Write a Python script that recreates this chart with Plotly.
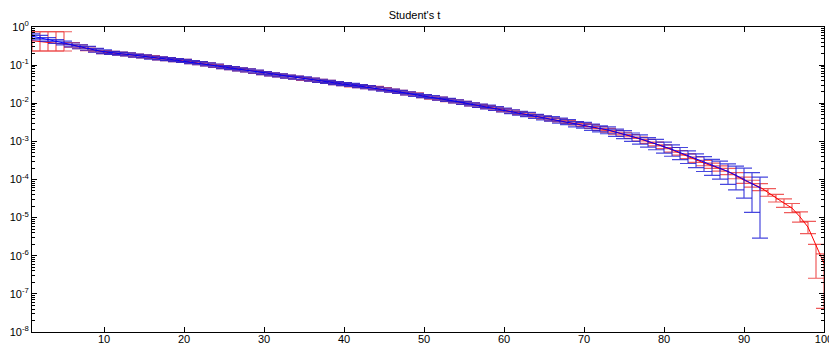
import plotly.graph_objects as go

# ---------------- data ----------------
x_red = list(range(1, 101))
x_blue = list(range(1, 93))

red_log10 = [
    -0.36, -0.38, -0.40, -0.42, -0.45, -0.47, -0.52, -0.57, -0.61, -0.66,
    -0.68, -0.70, -0.72, -0.75, -0.77, -0.79, -0.82, -0.84, -0.87, -0.89,
    -0.92, -0.95, -0.98, -1.02, -1.05, -1.08, -1.11, -1.14, -1.18, -1.21,
    -1.24, -1.27, -1.30, -1.33, -1.36, -1.38, -1.41, -1.44, -1.47, -1.50,
    -1.53, -1.55, -1.58, -1.60, -1.63, -1.67, -1.70, -1.74, -1.77, -1.81,
    -1.85, -1.88, -1.92, -1.95, -1.99, -2.03, -2.07, -2.10, -2.14, -2.18,
    -2.22, -2.26, -2.30, -2.34, -2.38, -2.42, -2.45, -2.49, -2.53, -2.57,
    -2.61, -2.66, -2.71, -2.76, -2.81, -2.87, -2.94, -3.00, -3.07, -3.14,
    -3.22, -3.30, -3.39, -3.48, -3.57, -3.64, -3.71, -3.79, -3.90, -4.02,
    -4.11, -4.20, -4.34, -4.49, -4.62, -4.75, -4.98, -5.25, -5.75, -6.20,
]
red_up = [
    0.235, 0.255, 0.275, 0.295, 0.325, 0.06, 0.05, 0.05, 0.04, 0.04,
    0.04, 0.04, 0.04, 0.04, 0.04, 0.04, 0.04, 0.04, 0.04, 0.04,
    0.04, 0.04, 0.04, 0.04, 0.04, 0.04, 0.04, 0.04, 0.04, 0.04,
    0.04, 0.04, 0.04, 0.04, 0.04, 0.04, 0.04, 0.04, 0.04, 0.04,
    0.04, 0.04, 0.04, 0.04, 0.04, 0.04, 0.04, 0.04, 0.04, 0.04,
    0.04, 0.04, 0.04, 0.04, 0.04, 0.04, 0.04, 0.04, 0.04, 0.04,
    0.04, 0.04, 0.04, 0.04, 0.04, 0.04, 0.04, 0.04, 0.04, 0.04,
    0.05, 0.05, 0.05, 0.05, 0.05, 0.05, 0.05, 0.05, 0.05, 0.05,
    0.06, 0.06, 0.06, 0.07, 0.07, 0.07, 0.07, 0.08, 0.08, 0.08,
    0.09, 0.09, 0.10, 0.10, 0.11, 0.12, 0.13, 0.15, 0.05, 0.25,
]
red_dn = [
    0.27, 0.25, 0.23, 0.21, 0.18, 0.06, 0.05, 0.05, 0.04, 0.04,
    0.04, 0.04, 0.04, 0.04, 0.04, 0.04, 0.04, 0.04, 0.04, 0.04,
    0.04, 0.04, 0.04, 0.04, 0.04, 0.04, 0.04, 0.04, 0.04, 0.04,
    0.04, 0.04, 0.04, 0.04, 0.04, 0.04, 0.04, 0.04, 0.04, 0.04,
    0.04, 0.04, 0.04, 0.04, 0.04, 0.04, 0.04, 0.04, 0.04, 0.04,
    0.04, 0.04, 0.04, 0.04, 0.04, 0.04, 0.04, 0.04, 0.04, 0.04,
    0.04, 0.04, 0.04, 0.04, 0.04, 0.04, 0.04, 0.04, 0.04, 0.04,
    0.05, 0.05, 0.05, 0.05, 0.05, 0.05, 0.05, 0.05, 0.05, 0.05,
    0.06, 0.06, 0.06, 0.07, 0.07, 0.07, 0.07, 0.08, 0.08, 0.08,
    0.09, 0.09, 0.10, 0.10, 0.11, 0.12, 0.14, 0.17, 0.84, 1.18,
]

blue_log10 = [
    -0.24, -0.28, -0.33, -0.38, -0.42, -0.47, -0.52, -0.56, -0.61, -0.65,
    -0.68, -0.70, -0.72, -0.75, -0.77, -0.80, -0.82, -0.84, -0.87, -0.89,
    -0.92, -0.95, -0.98, -1.01, -1.05, -1.08, -1.11, -1.14, -1.17, -1.21,
    -1.24, -1.27, -1.30, -1.33, -1.35, -1.38, -1.41, -1.44, -1.47, -1.50,
    -1.52, -1.55, -1.58, -1.61, -1.64, -1.67, -1.70, -1.74, -1.78, -1.81,
    -1.84, -1.88, -1.91, -1.95, -1.99, -2.03, -2.06, -2.10, -2.14, -2.18,
    -2.22, -2.26, -2.29, -2.34, -2.38, -2.41, -2.45, -2.49, -2.54, -2.57,
    -2.62, -2.66, -2.70, -2.76, -2.81, -2.87, -2.93, -3.00, -3.06, -3.14,
    -3.21, -3.29, -3.38, -3.47, -3.55, -3.63, -3.70, -3.79, -3.89, -3.99,
    -4.11, -4.22,
]
blue_up = [
    0.06, 0.06, 0.05, 0.05, 0.05, 0.05, 0.05, 0.05, 0.05, 0.05,
    0.04, 0.04, 0.04, 0.04, 0.04, 0.04, 0.04, 0.04, 0.04, 0.04,
    0.04, 0.04, 0.04, 0.04, 0.04, 0.04, 0.04, 0.04, 0.04, 0.04,
    0.04, 0.04, 0.04, 0.04, 0.04, 0.04, 0.04, 0.04, 0.04, 0.04,
    0.04, 0.04, 0.04, 0.04, 0.04, 0.04, 0.04, 0.04, 0.04, 0.04,
    0.04, 0.04, 0.04, 0.04, 0.04, 0.04, 0.04, 0.05, 0.05, 0.05,
    0.05, 0.05, 0.05, 0.05, 0.05, 0.06, 0.06, 0.06, 0.06, 0.07,
    0.07, 0.07, 0.08, 0.08, 0.09, 0.09, 0.10, 0.10, 0.11, 0.12,
    0.12, 0.13, 0.13, 0.14, 0.15, 0.16, 0.18, 0.20, 0.24, 0.29,
    0.29, 0.28,
]
blue_dn = [
    0.06, 0.06, 0.05, 0.05, 0.05, 0.05, 0.05, 0.05, 0.05, 0.05,
    0.04, 0.04, 0.04, 0.04, 0.04, 0.04, 0.04, 0.04, 0.04, 0.04,
    0.04, 0.04, 0.04, 0.04, 0.04, 0.04, 0.04, 0.04, 0.04, 0.04,
    0.04, 0.04, 0.04, 0.04, 0.04, 0.04, 0.04, 0.04, 0.04, 0.04,
    0.04, 0.04, 0.04, 0.04, 0.04, 0.04, 0.04, 0.04, 0.04, 0.04,
    0.04, 0.04, 0.04, 0.04, 0.04, 0.04, 0.05, 0.05, 0.05, 0.05,
    0.05, 0.05, 0.06, 0.06, 0.06, 0.06, 0.07, 0.07, 0.08, 0.08,
    0.09, 0.09, 0.10, 0.11, 0.12, 0.13, 0.14, 0.15, 0.16, 0.17,
    0.18, 0.19, 0.20, 0.22, 0.24, 0.26, 0.29, 0.34, 0.38, 0.50,
    0.75, 1.32,
]

y_tick_exps = [0, -1, -2, -3, -4, -5, -6, -7, -8]
x_tick_vals = [10, 20, 30, 40, 50, 60, 70, 80, 90, 100]
title_text = "Student's t"


def to_series(logs, up, dn):
    vals = [10 ** l for l in logs]
    plus = [10 ** (l + u) - 10 ** l for l, u in zip(logs, up)]
    minus = [10 ** l - 10 ** (l - d) for l, d in zip(logs, dn)]
    return vals, plus, minus


rv, rp, rm = to_series(red_log10, red_up, red_dn)
bv, bp, bm = to_series(blue_log10, blue_up, blue_dn)

minor_vals = [m * 10 ** e for e in y_tick_exps[1:] for m in range(2, 10)]

fig = go.Figure()
fig.add_trace(go.Scatter(
    x=x_red, y=rv, mode="lines",
    line=dict(color="rgb(255,0,0)", width=1),
    error_y=dict(type="data", symmetric=False, array=rp, arrayminus=rm,
                 color="rgba(235,50,50,0.8)", thickness=1.2, width=8),
    showlegend=False, hoverinfo="skip",
))
fig.add_trace(go.Scatter(
    x=x_blue, y=bv, mode="lines",
    line=dict(color="rgb(0,0,255)", width=1),
    error_y=dict(type="data", symmetric=False, array=bp, arrayminus=bm,
                 color="rgba(30,30,215,0.82)", thickness=1.2, width=8),
    showlegend=False, hoverinfo="skip",
))

fig.update_layout(
    width=829, height=345,
    margin=dict(l=32, r=5, t=27, b=13, autoexpand=False),
    paper_bgcolor="white", plot_bgcolor="white",
    font=dict(family="Liberation Sans, Arial, sans-serif", size=11, color="black"),
    title=dict(text=title_text, x=0.5, xanchor="center", y=0.957, yanchor="middle",
               font=dict(size=11, color="black")),
)
fig.update_xaxes(
    range=[1, 100], tickvals=x_tick_vals, ticktext=[str(v) for v in x_tick_vals],
    ticks="inside", ticklen=5, tickcolor="black", showline=True, linecolor="black",
    linewidth=1, mirror="ticks", showgrid=False, zeroline=False,
    tickfont=dict(size=11), automargin=False, ticklabelstandoff=-3,
    ticklabeloverflow="allow",
)
fig.update_yaxes(
    type="log", range=[-8, 0],
    tickvals=[10 ** e for e in y_tick_exps],
    ticktext=["10<sup>%d</sup>" % e for e in y_tick_exps],
    ticks="inside", ticklen=5, tickcolor="black", showline=True, linecolor="black",
    linewidth=1, mirror="ticks", showgrid=False, zeroline=False,
    minor=dict(tickvals=minor_vals, ticks="inside", ticklen=3,
               tickcolor="black", showgrid=False),
    tickfont=dict(size=11), automargin=False, ticklabeloverflow="allow",
)

fig.write_html("out.html", config={"displayModeBar": False},
               post_script="document.body.style.margin='0';")
